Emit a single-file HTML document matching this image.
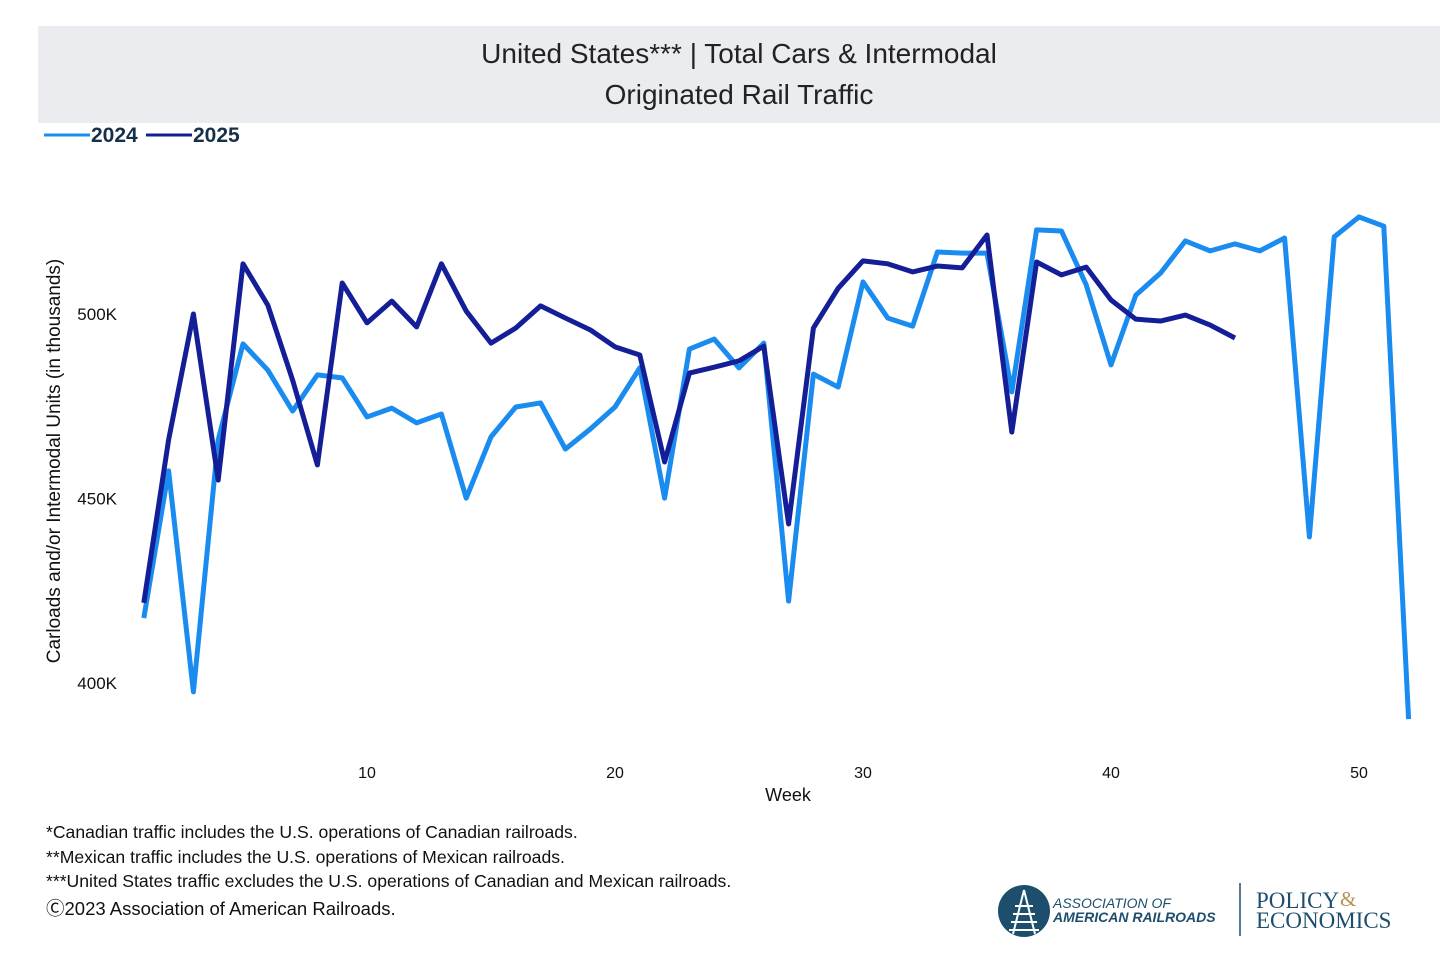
<!DOCTYPE html>
<html><head><meta charset="utf-8">
<style>
body{margin:0;width:1456px;height:978px;background:#fff;font-family:"Liberation Sans",Arial,sans-serif;overflow:hidden;position:relative}
.hdr{position:absolute;left:38px;top:26px;width:1402px;height:97px;background:#ebecef;text-align:center;color:#222;font-size:28px;line-height:41px;padding-top:7px;box-sizing:border-box}
.note{position:absolute;left:46px;font-size:17.6px;color:#111}
</style></head><body>
<div class="hdr">United States*** | Total Cars &amp; Intermodal<br>Originated Rail Traffic</div>
<svg id="c" width="1456" height="978" style="position:absolute;left:0;top:0"></svg>
<div class="note" style="top:822px">*Canadian traffic includes the U.S. operations of Canadian railroads.</div>
<div class="note" style="top:847px">**Mexican traffic includes the U.S. operations of Mexican railroads.</div>
<div class="note" style="top:871px">***United States traffic excludes the U.S. operations of Canadian and Mexican railroads.</div>
<div class="note" style="top:895px;font-size:18.5px">Ⓒ2023 Association of American Railroads.</div>
<svg width="420" height="70" style="position:absolute;left:995px;top:878px">
<circle cx="29" cy="33" r="26" fill="#1d4e6e"/>
<path d="M29 12 L18 56 M29 12 L40 56 M20 28h18M18 36h22M16 44h26M14 52h30" stroke="#fff" stroke-width="2" fill="none"/>
<text x="58" y="30" font-size="14" font-style="italic" fill="#1d4e6e">ASSOCIATION OF</text>
<text x="58" y="44" font-size="14" font-weight="bold" font-style="italic" fill="#1d4e6e">AMERICAN RAILROADS</text>
<line x1="245" y1="5" x2="245" y2="58" stroke="#1d4e6e" stroke-width="1.5"/>
<text x="261" y="30" font-size="23" font-family="Liberation Serif,serif" fill="#1d4e6e">POLICY</text>
<text x="345" y="28" font-size="21" font-family="Liberation Serif,serif" fill="#b8945a">&amp;</text>
<text x="261" y="50" font-size="23" font-family="Liberation Serif,serif" fill="#1d4e6e">ECONOMICS</text>
</svg>
<script>
const weeks=[];for(let i=1;i<=52;i++)weeks.push(i);
const s2024=[417.6,457.5,397.6,465.9,491.9,484.8,473.7,483.5,482.7,472.1,474.5,470.5,472.9,450.1,466.7,474.8,475.9,463.4,468.8,474.8,485.4,450.1,490.5,493.2,485.4,492.1,422.2,483.7,480.2,508.7,498.9,496.7,516.8,516.5,516.5,478.9,522.8,522.5,507.9,486.2,505.1,511.1,519.8,517.1,519.0,517.1,520.6,439.6,520.9,526.3,523.8,390.2];
const s2025=[421.7,465.9,500,455,513.6,502.4,482.1,459.1,508.4,497.6,503.5,496.5,513.6,500.8,492.1,496.2,502.2,498.9,495.7,491.1,488.9,459.9,484.0,485.6,487.3,491.3,443.1,496.2,507.0,514.4,513.6,511.4,513.0,512.5,521.4,468.0,514.1,510.6,512.7,503.8,498.6,498.1,499.7,497.0,493.5];
const xTicks=[10,20,30,40,50];
const yTicks=[400,450,500];
const X=w=>367+(w-10)*24.8;
const Y=v=>314-(v-500)*3.69;
const svg=document.getElementById('c');
const NS='http://www.w3.org/2000/svg';
function mk(t,a){const e=document.createElementNS(NS,t);for(const k in a)e.setAttribute(k,a[k]);svg.appendChild(e);return e;}
xTicks.forEach(t=>{const e=mk('text',{x:X(t),y:778,'font-size':16,'text-anchor':'middle',fill:'#111'});e.textContent=t;

});
yTicks.forEach(t=>{const e=mk('text',{x:117,y:Y(t)+6,'font-size':17,'text-anchor':'end',fill:'#111'});e.textContent=t+'K';

});
let e=mk('text',{x:788,y:801,'font-size':18,'text-anchor':'middle',fill:'#111'});e.textContent='Week';


e=mk('text',{x:0,y:0,'font-size':19,'text-anchor':'middle',fill:'#111',transform:'translate(60,461) rotate(-90)'});e.textContent='Carloads and/or Intermodal Units (in thousands)';


function line(data,col,name){const p=mk('polyline',{points:data.map((v,i)=>X(weeks[i])+','+Y(v)).join(' '),fill:'none',stroke:col,'stroke-width':5,'stroke-linejoin':'round'});

}
line(s2024,'#1a8cf0','line-2024');
line(s2025,'#141e96','line-2025');
[['2024','#1a8cf0',44],['2025','#141e96',146]].forEach(([n,c,x])=>{
const l=mk('line',{x1:x,y1:135,x2:x+46,y2:135,stroke:c,'stroke-width':3});


const t=mk('text',{x:x+47,y:142,'font-size':21,'font-weight':'bold',fill:'#17304a'});t.textContent=n;

});
</script>
</body></html>
